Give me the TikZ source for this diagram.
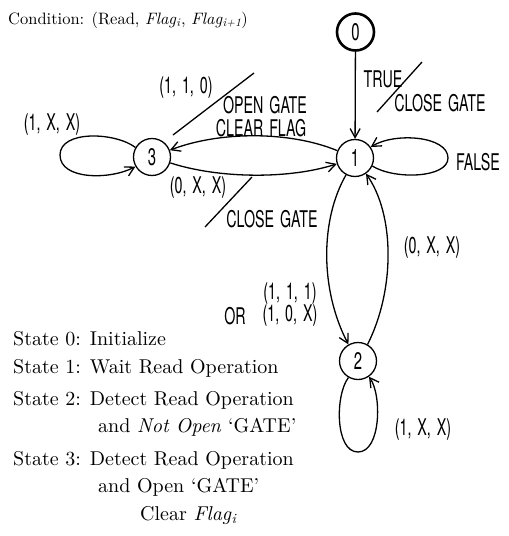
\documentclass[tikz,border=0pt]{standalone}
\usepackage{fontspec}
\setmainfont{lmroman10-regular.otf}[ItalicFont=lmroman10-italic.otf]
\newfontfamily\labfont[FakeStretch=0.62,WordSpace=1.5]{TeX Gyre Heros}
\usetikzlibrary{arrows.meta}
\tikzset{
 st/.style={circle, draw, line width=1.3pt, minimum size=37pt, inner sep=0pt, font=\labfont\fontsize{24}{24}\selectfont},
 tr/.style={line width=1.3pt, -{Straight Barb[length=9pt,width=10pt,line width=1.3pt]}},
 lab/.style={inner sep=0pt, font=\labfont\fontsize{23}{23}\selectfont},
 txt/.style={anchor=base west, inner sep=0pt, font=\fontsize{20}{24}\selectfont},
 sl/.style={line width=1.3pt}
}
\newcommand{\flagsub}[1]{\textit{Flag}\textsubscript{\textit{#1}}}
\begin{document}
\begin{tikzpicture}[x=1pt,y=-1pt]
\useasboundingbox (0,0) rectangle (509,536);
% states
\node[st, line width=2.6pt] (n0) at (355.5,32) {0};
\node[st] (n1) at (355,158) {1};
\node[st] (n3) at (152,157) {3};
\node[st] (n2) at (358,361) {2};
% transitions
\draw[tr] (n0) -- (n1);
\draw[tr] (n1) .. controls (290,131) and (220,131) .. (n3);
\draw[tr] (n3) .. controls (220,179) and (290,179) .. (n1);
\draw[tr] (n3.150) .. controls (115,132) and (60,130) .. (60,155) .. controls (60,180) and (110,180) .. (n3.210);
\draw[tr] (n1.-25) .. controls (395,180) and (448,178) .. (448,158) .. controls (448,136) and (395,132) .. (n1.35);
\draw[tr] (n1.-118) .. controls (320,220) and (320,290) .. (n2.120);
\draw[tr] (n2.60) .. controls (395,290) and (395,215) .. (n1.-55);
\draw[tr] (n2.-120) .. controls (335,395) and (335,452) .. (358,452) .. controls (381,452) and (382,395) .. (n2.-55);
% slashes
\coordinate (a1) at (377,112); \coordinate (a2) at (422,62);
\coordinate (b1) at (173,135); \coordinate (b2) at (254,73);
\coordinate (c1) at (205,227); \coordinate (c2) at (252,177);
\draw[sl] (a1) -- (a2);
\draw[sl] (b1) -- (b2);
\draw[sl] (c1) -- (c2);
% labels
\node[lab] (l1) at (383,79) {TRUE};
\node[lab] (l2) at (440,103) {CLOSE GATE};
\node[lab] (l3) at (186,88) {(1, 1, 0)};
\node[lab] (l4) at (265,105) {OPEN GATE};
\node[lab] (l5) at (261,128) {CLEAR FLAG};
\node[lab] (l6) at (52,125) {(1, X, X)};
\node[lab] (l7) at (478,162) {FALSE};
\node[lab] (l8) at (198,188) {(0, X, X)};
\node[lab] (l9) at (272,219) {CLOSE GATE};
\node[lab] (l10) at (432,248) {(0, X, X)};
\node[lab] (l11) at (290,294) {(1, 1, 1)};
\node[lab] (l12) at (290,316) {(1, 0, X)};
\node[lab] (l13) at (235,316) {OR};
\node[lab] (l14) at (423,430) {(1, X, X)};
% text
\node[txt, font=\fontsize{16.5}{20}\selectfont] (cond) at (8,24) {Condition: (Read, \flagsub{i}, \flagsub{i+1})};
\node[txt] (s0) at (13,345) {State 0: Initialize};
\node[txt] (s1) at (13,373) {State 1: Wait Read Operation};
\node[txt] (s2) at (13,405) {State 2: Detect Read Operation};
\node[txt] (s2b) at (98,432) {and \textit{Not Open} ‘GATE’};
\node[txt] (s3) at (13,465) {State 3: Detect Read Operation};
\node[txt] (s3b) at (98,492) {and Open ‘GATE’};
\node[txt] (s3c) at (140,520) {Clear \flagsub{i}};
\end{tikzpicture}
\end{document}
